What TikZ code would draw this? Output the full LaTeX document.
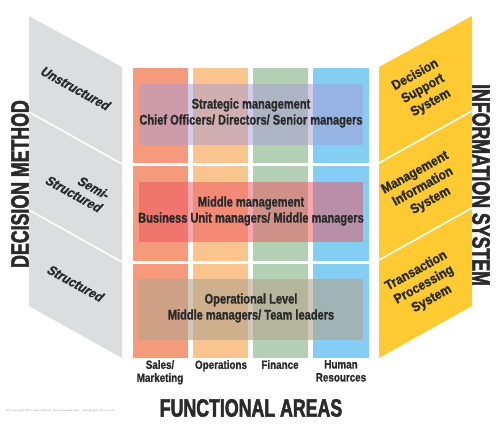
\documentclass[tikz,border=0pt]{standalone}
\usepackage{fontspec}
\newfontfamily\cfrow[FakeStretch=0.79,FakeBold=1.2]{Liberation Sans Bold}
\newfontfamily\cfside[FakeStretch=0.9,FakeBold=1.2]{Liberation Sans Bold}
\newfontfamily\cfslant[FakeStretch=0.9,FakeBold=1.2,FakeSlant=0.22]{Liberation Sans Bold}
\newfontfamily\cfcol[FakeStretch=0.82,FakeBold=1]{Liberation Sans Bold}
\newfontfamily\cfbig[FakeStretch=0.71,FakeBold=2]{Liberation Sans Bold}
\definecolor{panelgray}{HTML}{DCDDDE}
\definecolor{panelyellow}{HTML}{FFCA32}
\definecolor{csales}{HTML}{F59B7C}
\definecolor{cops}{HTML}{F9C48E}
\definecolor{cfin}{HTML}{B3D0B5}
\definecolor{chr}{HTML}{84CEF3}
\definecolor{otop}{HTML}{A99BD5}
\definecolor{omid}{HTML}{EC515D}
\definecolor{obot}{HTML}{B4A48C}
\definecolor{txt}{HTML}{2A2A2A}
\tikzset{
  lbl/.style={text=txt, inner sep=0pt, align=center},
  rowlbl/.style={lbl, font=\cfrow\fontsize{14}{16}\selectfont},
  sidelbl/.style={lbl, font=\cfside\fontsize{13.5}{16}\selectfont},
  slantlbl/.style={lbl, font=\cfslant\fontsize{13.5}{15}\selectfont},
  collbl/.style={lbl, font=\cfcol\fontsize{12}{13}\selectfont},
  biglbl/.style={lbl, font=\cfbig\fontsize{25}{28}\selectfont},
  divline/.style={white, line width=1.6pt},
}
\begin{document}
\begin{tikzpicture}[x=1pt,y=-1pt]
\useasboundingbox[fill=white] (0,0) rectangle (500,430);
% left panel
\fill[panelgray] (29,16) -- (122,67) -- (122,358) -- (29,306) -- cycle;
\draw[divline] (29,112) -- (122,164);
\draw[divline] (29,210) -- (122,262);
% right panel
\fill[panelyellow] (379,67) -- (472,16) -- (472,306) -- (379,358) -- cycle;
\draw[divline] (379,163) -- (472,111);
\draw[divline] (379,260) -- (472,208);
% columns
\foreach \xa/\xb/\c in {133/188/csales,193/248/cops,253/308/cfin,313/369/chr}{
  \fill[\c] (\xa,68) rectangle (\xb,163);
  \fill[\c] (\xa,166) rectangle (\xb,261);
  \fill[\c] (\xa,264) rectangle (\xb,358);
}
% overlays
\fill[otop, opacity=0.5] (139,84) rectangle (363,145);
\fill[omid, opacity=0.5] (139,182) rectangle (363,242);
\fill[obot, opacity=0.6] (138,279) rectangle (363,340);
% overlay labels
\node[rowlbl] (strat) at (251,113) {Strategic management\\Chief Officers/ Directors/ Senior managers};
\node[rowlbl] (mid) at (251,211) {Middle management\\Business Unit managers/ Middle managers};
\node[rowlbl] (oper) at (251,308) {Operational Level\\Middle managers/ Team leaders};
% column labels
\node[collbl, anchor=north] (sales) at (160,360) {Sales/\\Marketing};
\node[collbl, anchor=north] (ops) at (221,360) {Operations};
\node[collbl, anchor=north] (fin) at (280,360) {Finance};
\node[collbl, anchor=north] (hr) at (341,360) {Human\\Resources};
% left labels
\node[slantlbl, rotate=-29] (unstr) at (75,88) {Unstructured};
\node[slantlbl, rotate=-29, align=right] (semi) at (77,187) {Semi-\\Structured};
\node[slantlbl, rotate=-29] (str) at (75,283) {Structured};
% right labels
\node[sidelbl, rotate=29] (dss) at (423,89) {Decision\\Support\\System};
\node[sidelbl, rotate=29] (mis) at (423,187) {Management\\Information\\System};
\node[sidelbl, rotate=29] (tps) at (424,285) {Transaction\\Processing\\System};
% big labels
\node[biglbl, rotate=90] (dm) at (20,184) {DECISION METHOD};
\node[biglbl, rotate=-90] (is) at (481,185) {INFORMATION SYSTEM};
\node[biglbl] (fa) at (251,408) {FUNCTIONAL AREAS};
% copyright
\node[font=\fontsize{2.6}{3}\selectfont, text=gray, inner sep=0pt] (copy) at (60,411) {@Copyright 2010 SmartDraw Development Ltd.\quad All Rights Reserved};
\end{tikzpicture}
\end{document}
